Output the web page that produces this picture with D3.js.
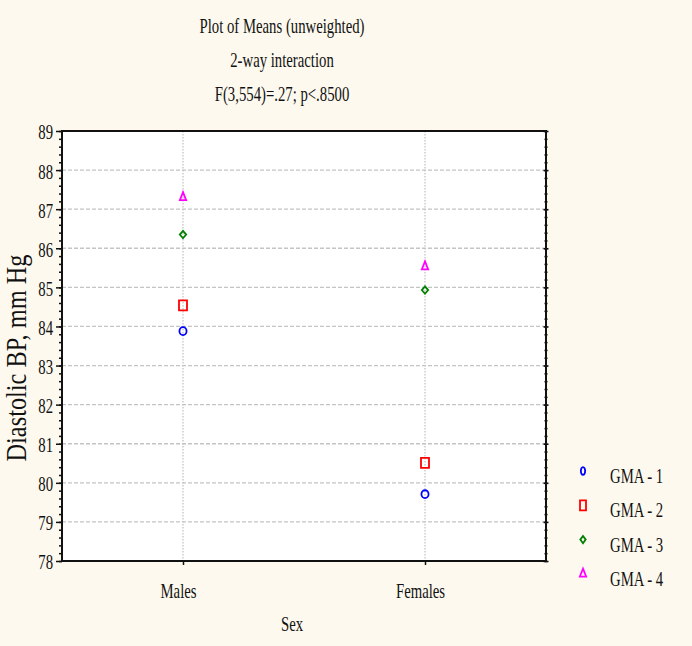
<!DOCTYPE html>
<html>
<head>
<meta charset="utf-8">
<script src="https://cdn.jsdelivr.net/npm/d3@7"></script>
<style>
  body { margin: 0; background: #fdf9ee; }
  svg { display: block; }
  text { font-family: "Liberation Serif", "Times New Roman", serif; fill: #111; }
</style>
</head>
<body>
<svg id="chart"></svg>
<script>
// данные
const categories = ["Males", "Females"];
const seriesNames = ["GMA - 1", "GMA - 2", "GMA - 3", "GMA - 4"];
const gma1 = [83.88, 79.71];
const gma2 = [84.54, 80.51];
const gma3 = [86.35, 84.93];
const gma4 = [87.30, 85.53];
const yTicks = [78, 79, 80, 81, 82, 83, 84, 85, 86, 87, 88, 89];
const titleLines = ["Plot of Means (unweighted)", "2-way interaction", "F(3,554)=.27; p<.8500"];

const width = 692, height = 646;
const plotL = 62, plotR = 546, plotT = 131, plotB = 561;
const narrow = 0.67; // шрифт в оригинале узкий

const svg = d3.select("#chart").attr("width", width).attr("height", height);

const scX = d3.scalePoint().domain(categories).range([plotL, plotR]).padding(0.5);
const scY = d3.scaleLinear().domain([78, 89]).range([plotB, plotT]);

// сжимаем текст по горизонтали
function squeeze(sel, sx) {
    sel.each(function () {
        let t = d3.select(this);
        let x = +t.attr("x") || 0, y = +t.attr("y") || 0;
        let old = t.attr("transform") || "";
        t.attr("x", 0).attr("y", 0)
            .attr("transform", `${old} translate(${x},${y}) scale(${sx},1)`);
    });
}

// фон области графика
svg.append("rect")
    .attr("x", plotL).attr("y", plotT)
    .attr("width", plotR - plotL).attr("height", plotB - plotT)
    .attr("fill", "#fff");

// сетка
svg.append("g").selectAll("line")
    .data(yTicks.slice(1, -1))
    .enter().append("line")
    .attr("x1", plotL).attr("x2", plotR)
    .attr("y1", d => scY(d)).attr("y2", d => scY(d))
    .attr("stroke", "#c4c4c4").attr("stroke-width", 1.3)
    .attr("stroke-dasharray", "4,2");

svg.append("g").selectAll("line")
    .data(categories)
    .enter().append("line")
    .attr("x1", d => scX(d)).attr("x2", d => scX(d))
    .attr("y1", plotT).attr("y2", plotB)
    .attr("stroke", "#c4c4c4").attr("stroke-width", 1.3)
    .attr("stroke-dasharray", "1.5,1.5");

// оси
const minor = d3.range(78, 89.01, 0.2);

svg.append("g").attr("transform", `translate(${plotL},0)`)
    .call(d3.axisLeft(scY).tickValues(minor).tickSize(3).tickFormat(""))
    .call(g => g.select(".domain").remove());
svg.append("g").attr("transform", `translate(${plotL},0)`)
    .call(d3.axisLeft(scY).tickValues(yTicks).tickSize(6).tickPadding(3).tickFormat(d3.format("d")))
    .call(g => g.select(".domain").remove())
    .selectAll("text").style("font-size", "22px").attr("dy", "0.36em")
    .call(squeeze, narrow);

svg.append("g").attr("transform", `translate(${plotR},0)`)
    .call(d3.axisRight(scY).tickValues(minor).tickSize(3).tickFormat(""))
    .call(g => g.select(".domain").remove())
    .selectAll("line").attr("transform", "translate(-1.5,0)");
svg.append("g").attr("transform", `translate(${plotR},0)`)
    .call(d3.axisRight(scY).tickValues(yTicks).tickSize(5).tickFormat(""))
    .call(g => g.select(".domain").remove())
    .selectAll("line").attr("transform", "translate(-2.5,0)");

svg.append("g").attr("transform", `translate(0,${plotB})`)
    .call(d3.axisBottom(scX).tickSize(4).tickPadding(17))
    .call(g => g.select(".domain").remove())
    .selectAll("text").style("font-size", "22px").attr("x", -5)
    .call(squeeze, narrow);

svg.selectAll(".tick line").attr("stroke", "#111").attr("stroke-width", 1.5);

// рамка
svg.append("rect")
    .attr("x", plotL).attr("y", plotT)
    .attr("width", plotR - plotL).attr("height", plotB - plotT)
    .attr("fill", "none").attr("stroke", "#111").attr("stroke-width", 2);

// заголовок
svg.append("g").selectAll("text")
    .data(titleLines)
    .enter().append("text")
    .attr("x", 282).attr("y", (d, i) => 33 + i * 34)
    .attr("text-anchor", "middle")
    .style("font-size", "22px")
    .text(d => d)
    .call(squeeze, narrow);

svg.append("text")
    .attr("x", 292).attr("y", 631)
    .attr("text-anchor", "middle")
    .style("font-size", "22px")
    .text("Sex")
    .call(squeeze, narrow);

svg.append("text")
    .attr("transform", `translate(26,358) rotate(-90) scale(0.84,1)`)
    .attr("text-anchor", "middle")
    .style("font-size", "29px")
    .text("Diastolic BP, mm Hg");

// маркеры
const series = [
    { name: seriesNames[0], values: gma1, color: "#0000ff", sym: d3.symbolCircle, size: 40, sx: 1, sy: 1.1, rot: 0, lx: 0.6 },
    { name: seriesNames[1], values: gma2, color: "#ff0000", sym: d3.symbolSquare, size: 64, sx: 1, sy: 1.25, rot: 0, lx: 0.75 },
    { name: seriesNames[2], values: gma3, color: "#008000", sym: d3.symbolSquare, size: 20, sx: 1, sy: 1.15, rot: 45, lx: 0.85 },
    { name: seriesNames[3], values: gma4, color: "#ff00ff", sym: d3.symbolTriangle, size: 30, sx: 0.75, sy: 1.1, rot: 0, lx: 0.75 }
];

series.forEach(s => {
    svg.append("g").selectAll("path")
        .data(s.values)
        .enter().append("path")
        .attr("transform", (d, i) =>
            `translate(${scX(categories[i])},${scY(d)}) scale(${s.sx},${s.sy}) rotate(${s.rot})`)
        .attr("d", d3.symbol().type(s.sym).size(s.size))
        .attr("fill", "none")
        .attr("stroke", s.color)
        .attr("stroke-width", 1.8)
        .attr("vector-effect", "non-scaling-stroke");
});

// легенда
const leg = svg.append("g").selectAll("g")
    .data(series)
    .enter().append("g")
    .attr("transform", (d, i) => `translate(583,${471 + i * 34.3})`);

leg.append("path")
    .attr("transform", d => `scale(${d.lx},${d.sy}) rotate(${d.rot})`)
    .attr("d", d => d3.symbol().type(d.sym).size(d.size)())
    .attr("fill", "none")
    .attr("stroke", d => d.color)
    .attr("stroke-width", 1.8)
    .attr("vector-effect", "non-scaling-stroke");

leg.append("text")
    .attr("x", 27).attr("y", 12)
    .style("font-size", "22px")
    .text(d => d.name)
    .call(squeeze, narrow);
</script>
</body>
</html>
